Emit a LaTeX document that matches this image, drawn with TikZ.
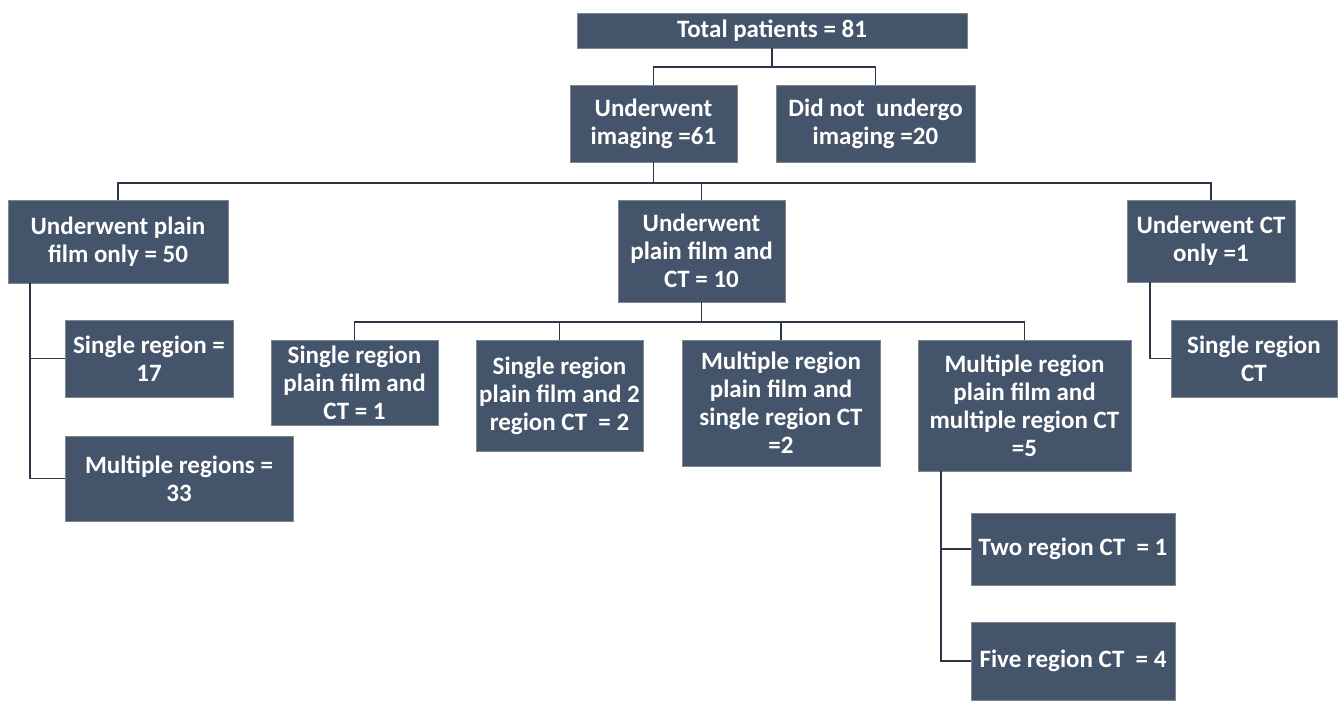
\documentclass[tikz,border=0pt]{standalone}
\usepackage{fontspec}
\setmainfont{Carlito}
\definecolor{boxfill}{HTML}{44546A}
\definecolor{boxline}{HTML}{2B3646}
\begin{document}
\begin{tikzpicture}[x=1pt, y=-1pt,
    box/.style={draw=boxline!60, line width=0.8pt, fill=boxfill, text=white,
      font=\fontsize{25}{28}\selectfont\bfseries, align=center, inner sep=0pt},
    link/.style={draw=boxline, line width=1.6pt}]
      \useasboundingbox (0, 0) rectangle (1343, 702);

      % top level
       \node[box, minimum width=390, minimum height=35] (total) at (772, 30.5) {Total patients = 81};
       \node[box, minimum width=167, minimum height=77] (img) at (653.5, 123.5) {Underwent\\imaging =61};
       \node[box, minimum width=199, minimum height=77] (noimg) at (875.5, 123.5) {Did not\ \ undergo\\imaging =20};

      % imaging groups
       \node[box, minimum width=220, minimum height=83] (pfonly) at (118, 241.5) {Underwent plain\\film only = 50};
       \node[box, minimum width=167, minimum height=102] (pfct) at (701.5, 251) {Underwent\\plain film and\\CT = 10};
       \node[box, minimum width=168, minimum height=82] (ctonly) at (1211, 241) {Underwent CT\\only =1};

      % plain film only
       \node[box, minimum width=168, minimum height=77] (sr17) at (149, 358.5) {Single region =\\17};
       \node[box, minimum width=228, minimum height=85] (mr33) at (179, 478.5) {Multiple regions =\\33};

      % plain film and CT
       \node[box, minimum width=167, minimum height=85] (sr1) at (354.5, 382.5) {Single region\\plain film and\\CT = 1};
       \node[box, minimum width=167, minimum height=111] (sr2) at (559.5, 395.5) {Single region\\plain film and 2\\region CT\ \ = 2};
       \node[box, minimum width=198, minimum height=126] (mr2) at (781, 403) {Multiple region\\plain film and\\single region CT\\=2};
       \node[box, minimum width=213, minimum height=131] (mr5) at (1024.5, 405.5) {Multiple region\\plain film and\\multiple region CT\\=5};
       \node[box, minimum width=204, minimum height=72] (two) at (1073, 549) {Two region CT\ \ = 1};
       \node[box, minimum width=204, minimum height=78] (five) at (1073, 661) {Five region CT\ \ = 4};

      % CT only
       \node[box, minimum width=166, minimum height=77] (srct) at (1254, 358.5) {Single region\\CT};

      % tree connectors
       \coordinate (topfork) at (772, 67);
       \draw[link] (total.south) -- (topfork);
       \draw[link] (topfork) -| (img.north);
       \draw[link] (topfork) -| (noimg.north);

       \coordinate (imgfork) at (653.5, 183);
       \draw[link] (img.south) -- (imgfork);
       \draw[link] (imgfork) -| (pfonly.north);
       \draw[link] (imgfork) -| (pfct.north);
       \draw[link] (imgfork) -| (ctonly.north);

       \coordinate (pfctfork) at (701.5, 322);
       \draw[link] (pfct.south) -- (pfctfork);
       \draw[link] (pfctfork) -| (sr1.north);
       \draw[link] (pfctfork) -| (sr2.north);
       \draw[link] (pfctfork) -| (mr2.north);
       \draw[link] (pfctfork) -| (mr5.north);

      % side brackets
       \coordinate (pfspine) at (30, 283);
       \draw[link] (pfspine) |- (sr17.west);
       \draw[link] (pfspine) |- (mr33.west);

       \coordinate (ctspine) at (1150, 282);
       \draw[link] (ctspine) |- (srct.west);

       \coordinate (mrspine) at (941, 471);
       \draw[link] (mrspine) |- (two.west);
       \draw[link] (mrspine) |- (five.west);
    \end{tikzpicture}
\end{document}
